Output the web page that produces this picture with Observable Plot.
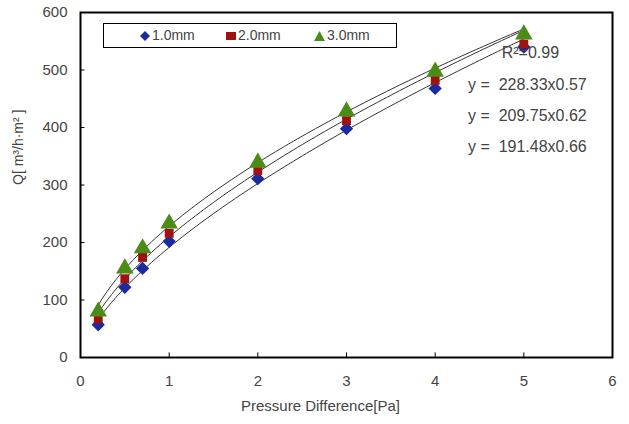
<!DOCTYPE html>
<html>
<head>
<meta charset="utf-8">
<script src="https://cdn.jsdelivr.net/npm/d3@7"></script>
<script src="https://cdn.jsdelivr.net/npm/@observablehq/plot@0.6"></script>
<style>
  body { margin: 0; background: #fff; }
  #wrap { position: relative; width: 629px; height: 424px; }
  #legend { position: absolute; left: 103px; top: 23px; width: 294px; height: 25px; border: 1px solid #000; background: #fff;
    font-family: "Liberation Sans", Arial, sans-serif; font-size: 14px; color: #444; box-sizing: border-box; }
  #legend span.item { position: absolute; top: 3px; white-space: nowrap; line-height: 17px; }
  #legend svg { vertical-align: -1px; margin-right: 2px; }
</style>
</head>
<body>
<div id="wrap"></div>
<script>
// Data
const pressure = [0.2, 0.5, 0.7, 1, 2, 3, 4, 5];
const seriesNames = ["1.0mm", "2.0mm", "3.0mm"];
const q_1mm = [57, 122, 155, 202, 311, 398, 468, 540];
const q_2mm = [67, 137, 174, 216, 325, 412, 482, 545];
const q_3mm = [80, 155, 190, 233, 339, 428, 497, 562];
const seriesValues = [q_1mm, q_2mm, q_3mm];
// Power fit coefficients as printed on the chart (y = a x^b)
const fitA = [191.48, 209.75, 228.33];
const fitB = [0.66, 0.62, 0.57];
const fitLabels = ["R\u00b2=0.99", "y =  228.33x0.57", "y =  209.75x0.62", "y =  191.48x0.66"];
const xTicks = [0, 1, 2, 3, 4, 5, 6];
const yTicks = [0, 100, 200, 300, 400, 500, 600];

const colors = ["#1b2a9c", "#a01212", "#4a8c16"];
const symbols = ["diamond2", "square", "triangle"];

const points = [];
seriesNames.forEach((s, i) => pressure.forEach((p, j) => points.push({series: s, x: p, y: seriesValues[i][j]})));

const curves = [];
seriesNames.forEach((s, i) => {
  const xs = d3.range(0.2, 5.0001, 0.05);
  xs.forEach(x => curves.push({series: s, x, y: fitA[i] * Math.pow(x, fitB[i])}));
});

const font = "'Liberation Sans', Arial, sans-serif";

const chart = Plot.plot({
  width: 629,
  height: 424,
  marginLeft: 80,
  marginRight: 17,
  marginTop: 12,
  marginBottom: 67,
  style: {fontFamily: font, fontSize: "15px", color: "#444", background: "#fff"},
  x: {domain: [0, 6], ticks: xTicks, tickFormat: "d", tickSize: 0, tickPadding: 18, label: null},
  y: {domain: [0, 600], ticks: yTicks, tickFormat: "d", tickSize: 0, tickPadding: 13, label: null},
  marks: [
    Plot.ruleX(xTicks.slice(1, -1), {y1: 0, y2: 8, stroke: "#000", strokeWidth: 1}),
    Plot.ruleY(yTicks.slice(1, -1), {x1: 0, x2: 0.05, stroke: "#000", strokeWidth: 1}),
    Plot.line(curves, {x: "x", y: "y", z: "series", stroke: "#333", strokeWidth: 1}),
    ...seriesNames.map((s, i) => Plot.dot(points.filter(d => d.series === s), {
      x: "x", y: "y", symbol: () => symbols[i], fill: colors[i], stroke: "none",
      r: i === 2 ? 6.5 : (i === 0 ? 6 : 5)
    })),
    Plot.text(fitLabels.slice(0, 1), {x: 4.75, y: 530, text: d => d, textAnchor: "start", fill: "#444", fontSize: 16}),
    Plot.text(fitLabels.slice(1), {x: 4.37, y: (d, i) => 475 - 54 * i, text: d => d, textAnchor: "start", fill: "#444", fontSize: 16}),
    Plot.frame({stroke: "#000", strokeWidth: 2}),
    Plot.text(["Pressure Difference[Pa]"], {frameAnchor: "bottom", dx: -26, dy: 53, fontSize: 15, fill: "#444"}),
    Plot.text(["Q[ m\u00b3/h\u00b7m\u00b2 ]"], {frameAnchor: "left", dx: -62, rotate: -90, fontSize: 14, fill: "#444"})
  ]
});

const wrap = document.getElementById("wrap");
wrap.appendChild(chart);

// Legend
const legend = document.createElement("div");
legend.id = "legend";
const legendX = [36, 122, 210];
const shapes = [
  c => `<svg width="10" height="10"><path d="M5,0L10,5L5,10L0,5Z" fill="${c}"/></svg>`,
  c => `<svg width="10" height="10"><rect x="0" y="1" width="10" height="8" fill="${c}"/></svg>`,
  c => `<svg width="11" height="10"><path d="M5.5,0L11,10L0,10Z" fill="${c}"/></svg>`
];
seriesNames.forEach((s, i) => {
  const span = document.createElement("span");
  span.className = "item";
  span.style.left = legendX[i] + "px";
  span.innerHTML = shapes[i](colors[i]) + s;
  legend.appendChild(span);
});
wrap.appendChild(legend);
</script>
</body>
</html>
